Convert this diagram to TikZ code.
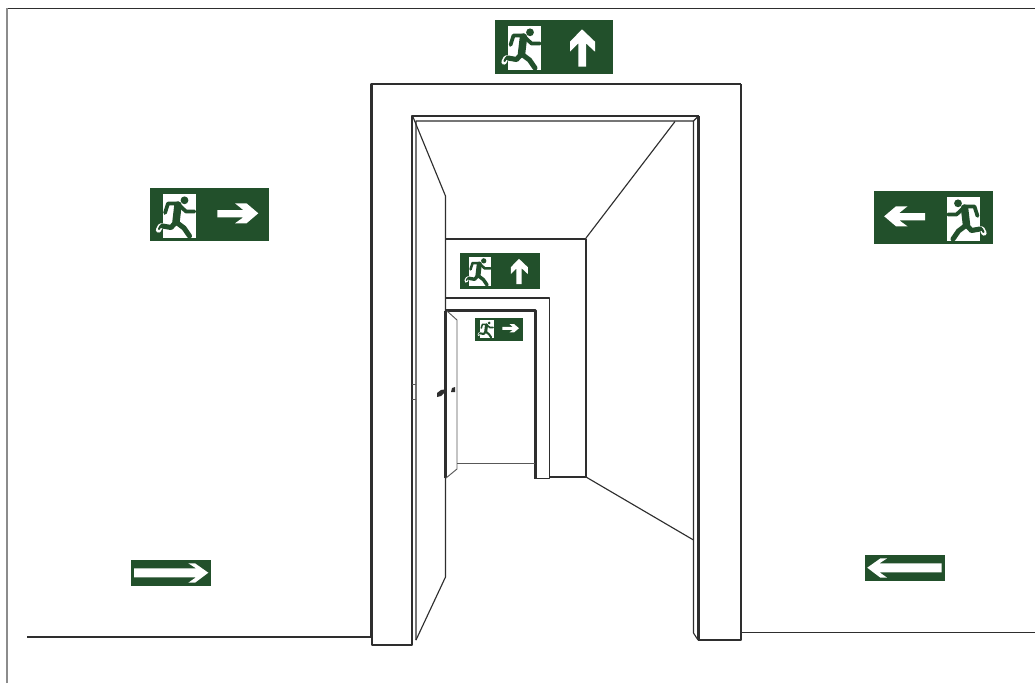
\documentclass[tikz,border=0pt]{standalone}
\definecolor{signgreen}{HTML}{22502B}
\definecolor{ink}{HTML}{2E2E2E}
\tikzset{
  wall/.style={draw=ink,line width=0.85pt,line join=round},
  heavy/.style={draw=ink,line width=1.6pt,line join=round},
  thin wall/.style={draw=ink!80,line width=0.7pt,line join=round},
  limb/.style={signgreen,line cap=round,line join=round},
}
\newcommand{\runnerdoor}[1]{%
  \fill[white] (13,6) -- (46,6) -- (46,50) -- (13,50) -- cycle;
  \draw[white,line width=#1*4pt,line cap=round,line join=round] (15,38) -- (11,38) -- (9,42);
  \fill[signgreen] (35,12.3) circle (3.9);
  \draw[limb,line width=#1*5.6pt] (28.5,17) -- (26.5,34);
  \draw[limb,line width=#1*2.8pt] (28.5,15.5) -- (18.5,15.5) -- (15.5,25);
  \draw[limb,line width=#1*2.8pt] (29,16.5) -- (36.5,23.5) -- (45,23.5);
  \draw[limb,line width=#1*3.8pt] (26.5,34) -- (34.5,40) -- (40,48);
  \draw[limb,line width=#1*3.8pt] (26.5,34) -- (21.5,39.5) -- (13,38);
  \draw[limb,line width=#1*1.6pt] (13,38) -- (11,38) -- (9.5,41);
}
\newcommand{\plate}[4]{\fill[signgreen] (#1,#2) rectangle ++(#3,#4);}
\newcommand{\arrowup}{\fill[white] (87,9.3) -- (100,21.7) -- (100,31.7) -- (91,23.3) -- (91,46.7) -- (83.3,46.7) -- (83.3,23.3) -- (75,31.7) -- (75,21.7) -- cycle;}
\newcommand{\arrowrt}{\fill[white] (108.8,25.3) -- (97,15.3) -- (85.5,15.3) -- (93.8,22) -- (67.8,22) -- (67.8,29.3) -- (93.8,29.3) -- (85.5,35.3) -- (97,35.3) -- cycle;}
\newcommand{\longarrow}{\fill[white] (77.8,12.7) -- (64.5,3.3) -- (57.8,3.3) -- (65.5,8.3) -- (3.5,8.3) -- (3.5,17.3) -- (65.5,17.3) -- (57.8,22.7) -- (64.5,22.7) -- cycle;}
\begin{document}
\begin{tikzpicture}[x=0.75pt,y=-0.75pt]
\useasboundingbox (0,0) rectangle (1035,683);
\fill[white] (0,0) rectangle (1035,683);
% picture frame
\draw[draw=ink,line width=0.8pt] (6.5,8.7) -- (1035,8.7);
\draw[draw=ink!55,line width=1.2pt] (6.8,683) -- (6.8,8.4);
% floor
\draw[wall] (27,637) -- (371,637);
\draw[wall] (741,632.7) -- (1035,632.7);
% outer frame
\draw[heavy] (371.5,637) -- (371.5,84) -- (741,84);
\draw[wall] (741,84) -- (741,640) -- (698,640);
\draw[wall] (372,637) -- (372,645) -- (412,645) -- (412,116) -- (698.5,116);
\draw[heavy] (698.5,116) -- (698.5,640);
\draw[wall] (416,640) -- (416,121) -- (693.5,121) -- (693.5,633) -- (698,640);
\draw[wall] (693.5,121) -- (698.5,116);
% hinge
\draw[thin wall] (412,384) -- (416,384) (412,399) -- (416,399);
% door leaf
\draw[wall] (413,117) -- (445.5,196) -- (445.5,311);
\draw[heavy] (445.5,311) -- (445.5,478);
\draw[wall] (445.5,478) -- (445.5,577) -- (416,640);
% corridor ceiling
\draw[wall] (675,121.5) -- (586,238);
\draw[wall] (445.5,239) -- (586,239) -- (586,477) -- (549.5,477);
\draw[wall] (586,477) -- (693.5,540);
% second frame
\draw[wall] (445.5,298) -- (549.5,298) -- (549.5,478.5) -- (535.5,478.5);
\draw[heavy] (446,310.5) -- (535.5,310.5) -- (535.5,478.5);
% far door
\draw[thin wall] (447,311) -- (457,320) -- (457,469) -- (446,478);
\draw[thin wall] (457,463) -- (535,463);
% handles
\fill[ink] (437,393) -- (441,390) -- (444,389.5) -- (444,393) -- (441,396) -- (437,397) -- cycle;
\fill[ink] (451,392) -- (452,388) -- (455,387) -- (455,392) -- cycle;
% signs with figure
\begin{scope}[shift={(495,20)}]
  \plate{0}{0}{118}{54}\runnerdoor{1}\arrowup
\end{scope}
\begin{scope}[shift={(149.5,188)}]
  \plate{0}{0}{119.5}{53}\runnerdoor{1}\arrowrt
\end{scope}
\begin{scope}[shift={(993,191)},xscale=-1]
  \plate{0}{0}{119}{53}\runnerdoor{1}\arrowrt
\end{scope}
\begin{scope}[shift={(460,252.5)},scale=0.678]
  \plate{0}{0}{118}{54}\runnerdoor{0.678}\arrowup
\end{scope}
\begin{scope}[shift={(475,318)},scale=0.404]
  \plate{0}{0}{118}{57}\runnerdoor{0.404}\arrowrt
\end{scope}
% arrow plates
\begin{scope}[shift={(130.5,560)}]
  \plate{0}{0}{80.5}{26}\longarrow
\end{scope}
\begin{scope}[shift={(945,555)},xscale=-1]
  \plate{0}{0}{80}{26}\longarrow
\end{scope}
\end{tikzpicture}
\end{document}
